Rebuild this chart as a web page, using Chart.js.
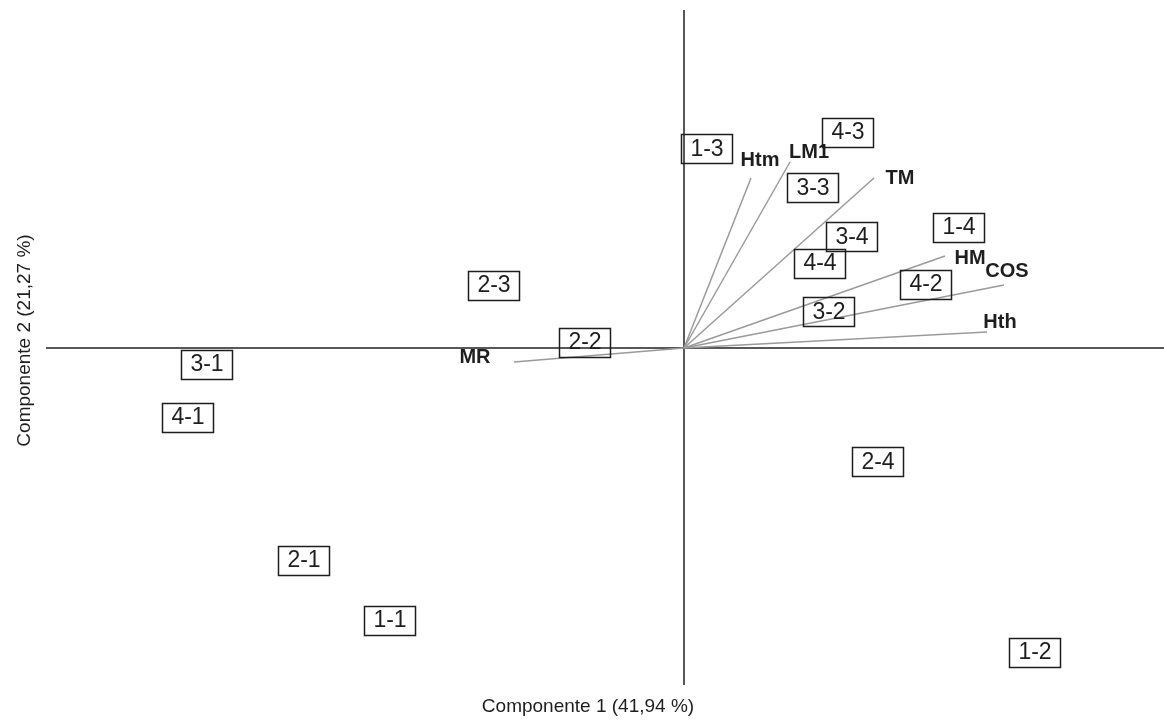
<!DOCTYPE html>
<html>
<head>
<meta charset="utf-8">
<script src="https://cdn.jsdelivr.net/npm/chart.js@4/dist/chart.umd.min.js"></script>
<style>
  html, body { margin: 0; padding: 0; background: #fff; }
  #wrap { width: 1164px; height: 724px; }
</style>
</head>
<body>
<div id="wrap"><canvas id="result"></canvas></div>
<script>
// object scores (component 1, component 2)
const scoreLabels = ['1-1', '1-2', '1-3', '1-4', '2-1', '2-2', '2-3', '2-4',
                     '3-1', '3-2', '3-3', '3-4', '4-1', '4-2', '4-3', '4-4'];
const scoreX = [-1.47, 1.755, 0.115, 1.375, -1.90, -0.495, -0.95, 0.97,
                -2.385, 0.725, 0.645, 0.84, -2.48, 1.21, 0.82, 0.68];
const scoreY = [-1.36, -1.52, 0.995, 0.605, -1.06, 0.03, 0.315, -0.57,
                -0.08, 0.18, 0.80, 0.555, -0.345, 0.32, 1.08, 0.425];

// variable loadings
const varLabels = ['Htm', 'LM1', 'TM', 'HM', 'COS', 'Hth', 'MR'];
const varX = [0.335, 0.53, 0.95, 1.305, 1.60, 1.515, -0.85];
const varY = [0.85, 0.93, 0.85, 0.46, 0.315, 0.08, -0.07];

const xTitle = 'Componente 1 (41,94 %)';
const yTitle = 'Componente 2 (21,27 %)';

// label offsets in px from the end of each vector
const varLabelOffset = [[9, -18], [19, -10], [26, 0], [25, 2], [3, -14], [13, -10], [-39, -5]];

const FONT = '"Liberation Sans", Arial, sans-serif';
const TEXT = '#1e1e1e';

let datasets = varLabels.map((name, i) => ({
    type: 'line',
    label: name,
    data: [{x: 0, y: 0}, {x: varX[i], y: varY[i]}],
    borderColor: '#9a9a9a',
    borderWidth: 1.5,
    pointRadius: 0,
    fill: false
}));

datasets.push({
    type: 'scatter',
    label: 'scores',
    data: scoreX.map((x, i) => ({x, y: scoreY[i]})),
    pointRadius: 0
});

const biplot = {
    id: 'biplot',
    beforeDatasetsDraw(chart) {
        const {ctx, chartArea: a, scales: {x, y}} = chart;
        let x0 = x.getPixelForValue(0);
        let y0 = y.getPixelForValue(0);
        ctx.save();
        ctx.strokeStyle = '#222';
        ctx.lineWidth = 1.5;
        ctx.beginPath();
        ctx.moveTo(a.left, y0); ctx.lineTo(a.right, y0);
        ctx.moveTo(x0, a.top); ctx.lineTo(x0, a.bottom);
        ctx.stroke();
        ctx.restore();
    },
    afterDatasetsDraw(chart) {
        const {ctx, chartArea: a, scales: {x, y}} = chart;
        ctx.save();
        ctx.fillStyle = TEXT;
        ctx.textAlign = 'center';
        ctx.textBaseline = 'middle';

        // variable names
        ctx.font = 'bold 20px ' + FONT;
        varLabels.forEach((name, i) => {
            let px = x.getPixelForValue(varX[i]) + varLabelOffset[i][0];
            let py = y.getPixelForValue(varY[i]) + varLabelOffset[i][1];
            ctx.fillText(name, px, py);
        });

        // boxed score labels
        ctx.font = '23px ' + FONT;
        ctx.strokeStyle = '#1e1e1e';
        ctx.lineWidth = 1.5;
        scoreLabels.forEach((name, i) => {
            let px = x.getPixelForValue(scoreX[i]);
            let py = y.getPixelForValue(scoreY[i]);
            let w = ctx.measureText(name).width + 18;
            let h = 29;
            ctx.strokeRect(Math.round(px - w / 2) + 0.5, Math.round(py - h / 2) + 0.5, Math.round(w), h);
            ctx.fillText(name, px, py + 1);
        });

        // axis titles
        ctx.font = '19px ' + FONT;
        ctx.fillText(xTitle, (a.left + a.right) / 2 - 17, a.bottom + 22);
        ctx.translate(25, (a.top + a.bottom) / 2 - 7);
        ctx.rotate(-Math.PI / 2);
        ctx.fillText(yTitle, 0, 0);
        ctx.restore();
    }
};

var options = {
    responsive: true,
    maintainAspectRatio: false,
    animation: false,
    layout: { padding: { left: 38, right: 0, top: 10, bottom: 31 } },
    plugins: { legend: { display: false }, tooltip: { enabled: false } },
    scales: {
        x: {
            type: 'linear', min: -3.19, max: 2.4,
            ticks: { display: false },
            grid: { display: false },
            border: { display: false }
        },
        y: {
            type: 'linear', min: -1.685, max: 1.69,
            ticks: { display: false },
            grid: { display: false },
            border: { display: false }
        }
    }
};

function mountChart () {
    let ctx = document.getElementById('result').getContext('2d');
    new Chart(ctx, {
        type: 'scatter',
        data: { datasets },
        options,
        plugins: [biplot]
    });
}

mountChart();
</script>
</body>
</html>
